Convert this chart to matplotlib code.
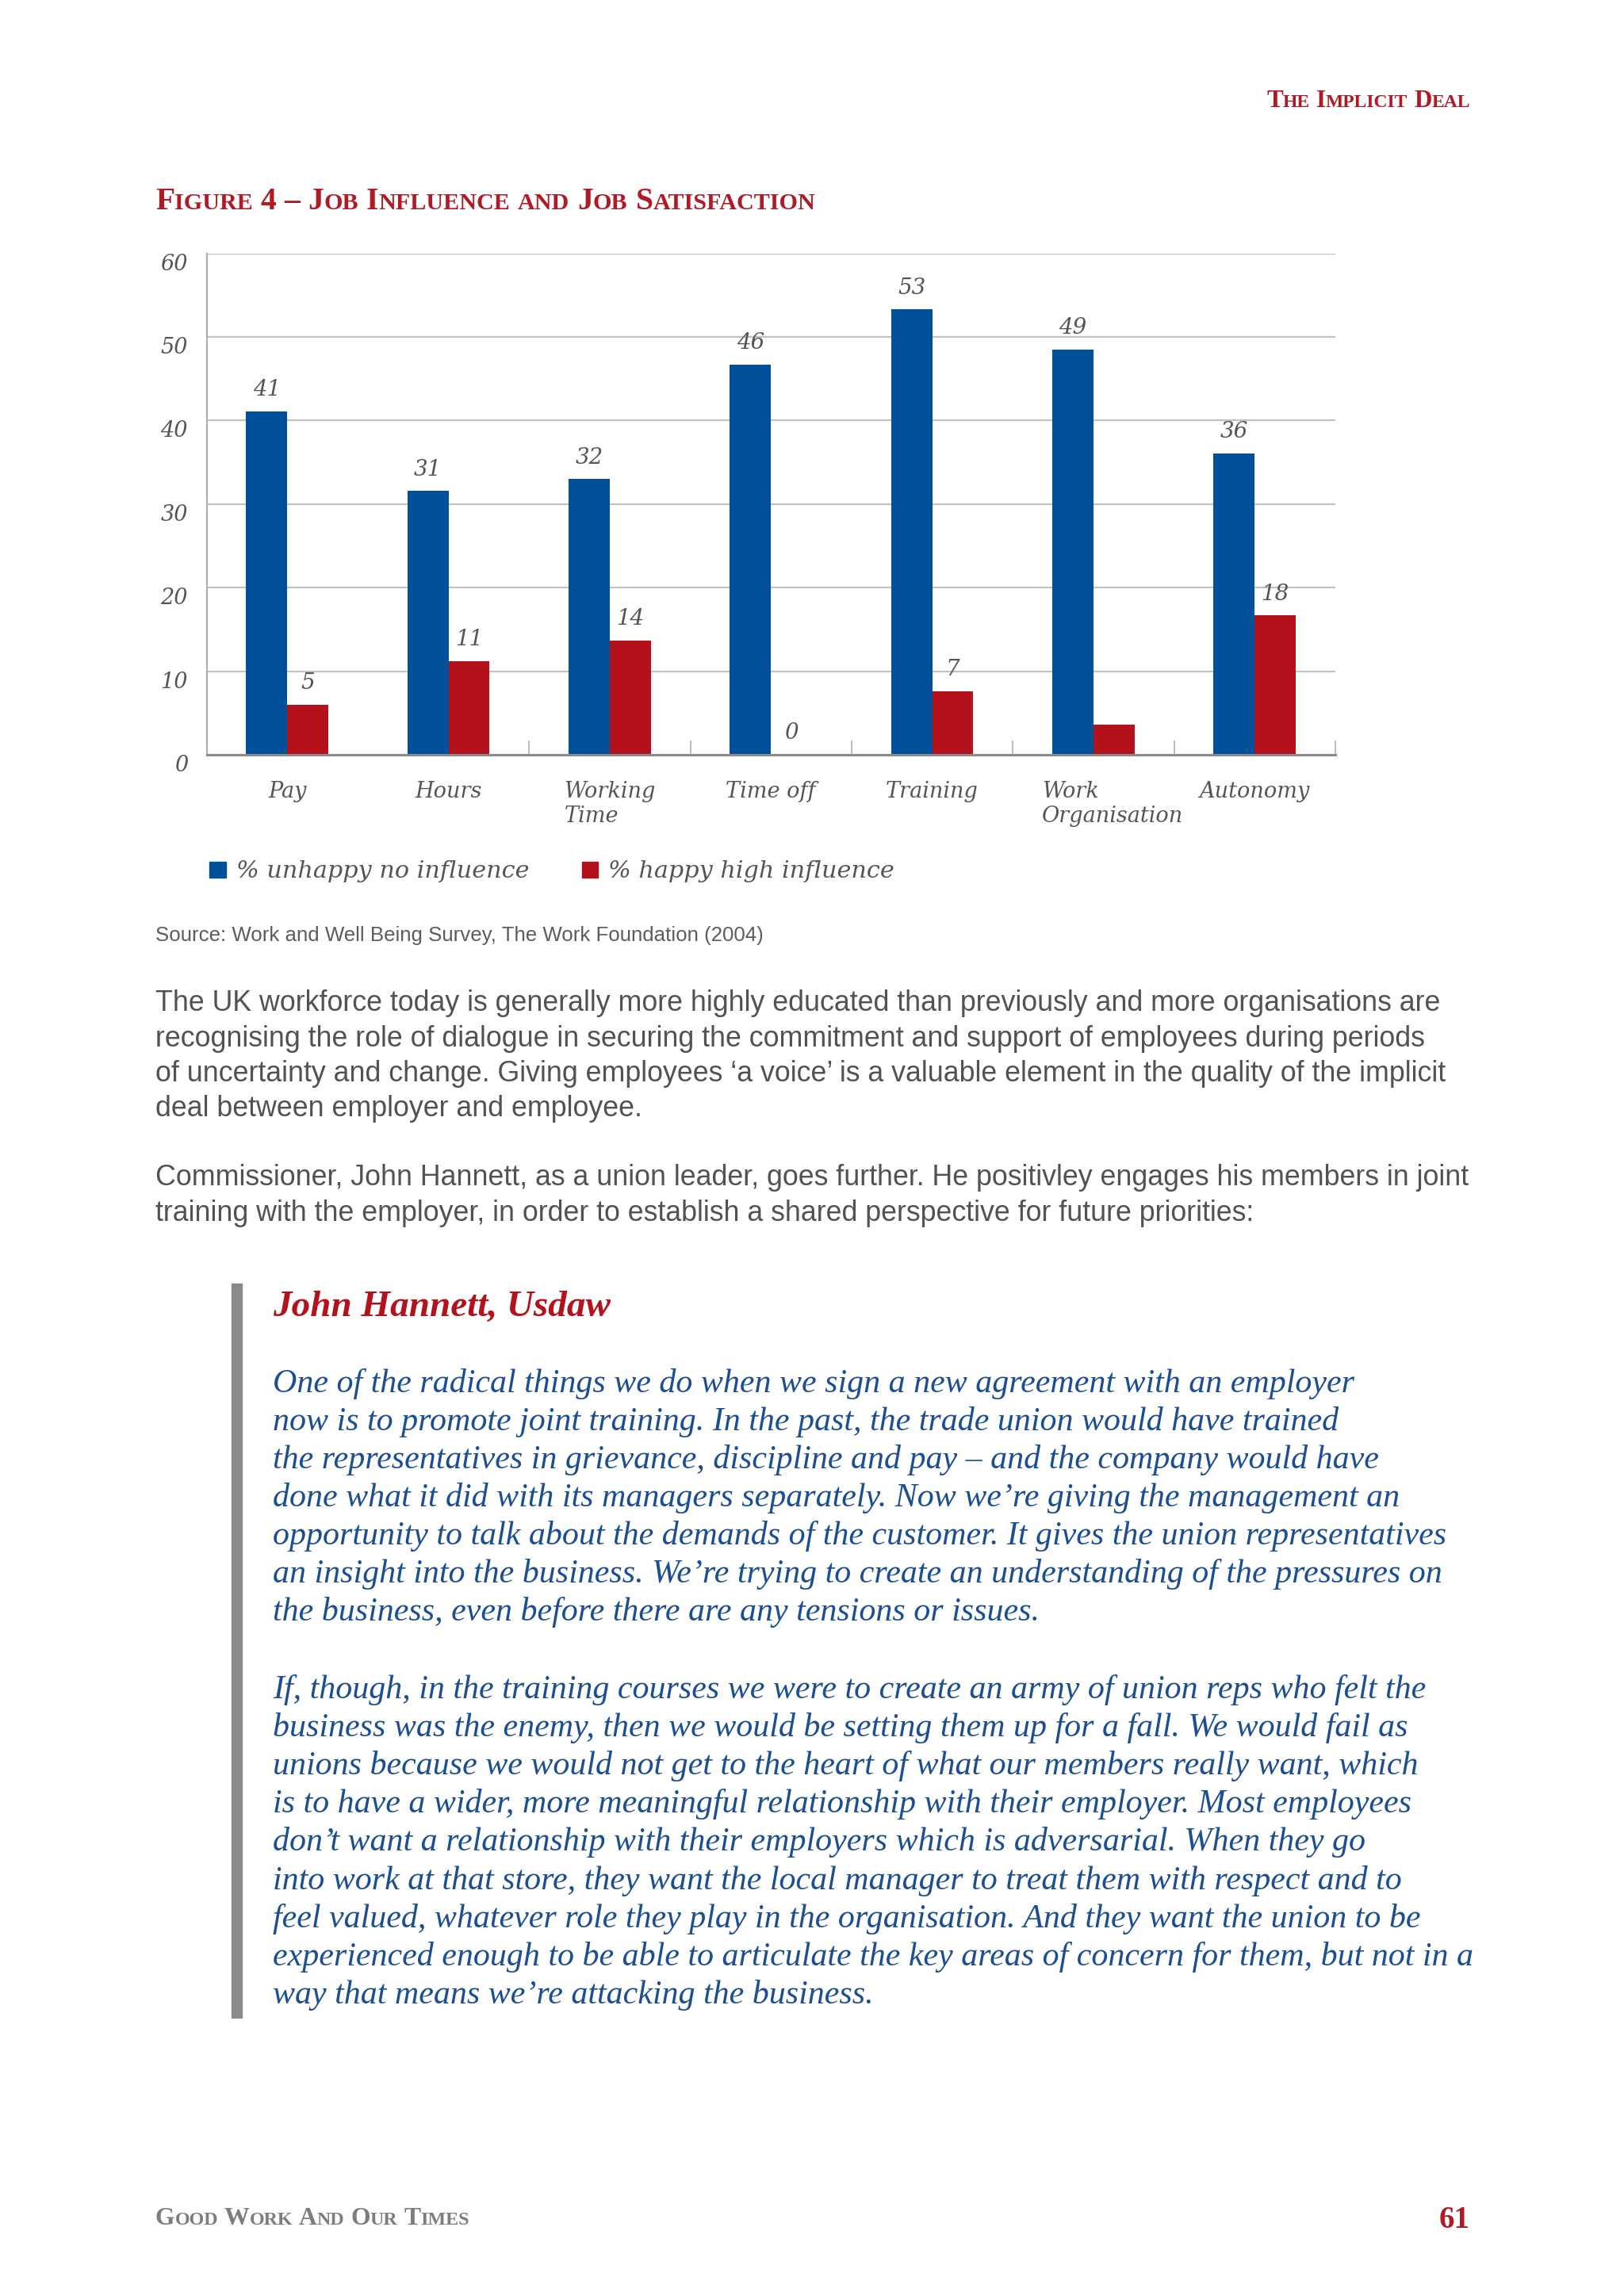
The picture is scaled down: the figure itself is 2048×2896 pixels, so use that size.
import matplotlib
matplotlib.use("Agg")
import matplotlib.pyplot as plt
from matplotlib.patches import Rectangle

W, H = 2048, 2896
DPI = 100
SX = W / 1108  # layout was measured on a 1108 px wide preview of the page

# --- data ---
categories = ["Pay", "Hours", "Working\nTime", "Time off", "Training",
              "Work\nOrganisation", "Autonomy"]
unhappy_no_influence = [41.1, 31.6, 33.0, 46.7, 53.3, 48.5, 36.1]
happy_high_influence = [6.0, 11.2, 13.7, 0.0, 7.6, 3.6, 16.7]
unhappy_labels = ["41", "31", "32", "46", "53", "49", "36"]
happy_labels = ["5", "11", "14", "0", "7", "", "18"]
y_ticks = [0, 10, 20, 30, 40, 50, 60]
series_names = ["% unhappy no influence", "% happy high influence"]

BLUE = "#00519a"
RED = "#b3121c"
TITLE_RED = "#b01a25"
LABEL_GREY = "#555555"
BODY_GREY = "#525252"
QUOTE_BLUE = "#1c4f91"

SERIF_IT = dict(family="DejaVu Serif", style="italic")
QUOTE_IT = dict(family="Liberation Serif", style="italic")

fig = plt.figure(figsize=(W / DPI, H / DPI), dpi=DPI)
fig.patch.set_facecolor("white")
renderer = fig.canvas.get_renderer()


def P(xd, yd):
    # preview coordinates -> figure fraction
    return xd * SX / W, 1 - yd * SX / H


def fit_size(text, target_px, **kw):
    t = fig.text(0, 0, text, fontsize=20, **kw)
    w = t.get_window_extent(renderer).width
    t.remove()
    return 20 * target_px / w


def small_caps(xd, yd, text, color, target_w, ha="left", weight="bold",
               family="Liberation Serif", ratio=0.76):
    # fake small caps: lowercase letters are drawn as smaller capitals
    def build(size):
        arts = []
        x = 0.0
        space = size * DPI / 72 * 0.25
        for word in text.split(" "):
            runs = []
            for ch in word:
                small = ch.islower()
                c = ch.upper() if small else ch
                if runs and runs[-1][0] == small:
                    runs[-1][1] += c
                else:
                    runs.append([small, c])
            for small, s in runs:
                t = fig.text(0, 0, s, fontsize=size * ratio if small else size,
                             color=color, weight=weight, family=family,
                             va="baseline", ha="left")
                arts.append((t, x))
                x += t.get_window_extent(renderer).width
            x += space
        return arts, x - space

    arts, total = build(20)
    for t, _ in arts:
        t.remove()
    size = 20 * target_w * SX / total
    arts, total = build(size)
    x0 = xd * SX - (total if ha == "right" else 0)
    y = P(0, yd)[1]
    for t, x in arts:
        t.set_position(((x0 + x) / W, y))


# --- page header and figure title ---
small_caps(1003, 73, "The Implicit Deal", TITLE_RED, 139, ha="right")
small_caps(106, 143, "Figure 4 – Job Influence and Job Satisfaction", TITLE_RED, 449)

# --- chart ---
x0, y0 = P(141, 515)
x1, y1 = P(911, 173)
ax = fig.add_axes([x0, y0, x1 - x0, y1 - y0])
ax.set_facecolor("white")

idx = list(range(len(categories)))
bw = 0.255
blue_bars = ax.bar([i - bw / 2 for i in idx], unhappy_no_influence, bw, color=BLUE, zorder=3)
red_bars = ax.bar([i + bw / 2 for i in idx], happy_high_influence, bw, color=RED, zorder=3)

ax.set_xlim(-0.5, len(categories) - 0.5)
ax.set_ylim(0, 60)
ax.set_yticks(y_ticks)
ax.set_yticklabels([str(v) for v in y_ticks], fontsize=19.5, color=LABEL_GREY, **SERIF_IT)
for lbl in ax.get_yticklabels():
    lbl.set_va("top")
ax.tick_params(axis="y", length=0, pad=17)
ax.set_xticks([i + 0.5 for i in idx[1:]])
ax.set_xticklabels([])
ax.tick_params(axis="x", direction="in", length=13, width=1.3, color="#b5b5b5")
ax.grid(axis="y", color="#c2c2c2", linewidth=1.6, zorder=0)
for side in ["top", "right"]:
    ax.spines[side].set_visible(False)
ax.spines["left"].set_color("#b0b0b0")
ax.spines["left"].set_linewidth(1.6)
ax.spines["bottom"].set_color("#8c8c8c")
ax.spines["bottom"].set_linewidth(2.2)
ax.spines["bottom"].set_zorder(4)

for bars, labels in [(blue_bars, unhappy_labels), (red_bars, happy_labels)]:
    for b, lab in zip(bars, labels):
        if not lab:
            continue
        ax.annotate(lab, (b.get_x() + b.get_width() / 2, b.get_height()),
                    xytext=(0, 14), textcoords="offset points", ha="center",
                    va="baseline", fontsize=20, color=LABEL_GREY, **SERIF_IT)

label_shift = {"Work\nOrganisation": 0.12}
for i, cat in zip(idx, categories):
    ax.text(i + label_shift.get(cat, 0), -0.052, cat, transform=ax.get_xaxis_transform(),
            ha="center", va="top", multialignment="left", fontsize=19.5,
            linespacing=1.2, color=LABEL_GREY, **SERIF_IT)

# legend
leg_size = fit_size(series_names[0], 200 * SX, **SERIF_IT)
for (lx, tx), name, col in zip([(143, 161), (397, 415)], series_names, [BLUE, RED]):
    rx, ry = P(lx, 599)
    fig.patches.append(Rectangle((rx, ry), 11 * SX / W, 11 * SX / H,
                                 transform=fig.transFigure, color=col))
    fig.text(*P(tx, 599), name, fontsize=leg_size, color=LABEL_GREY,
             va="baseline", ha="left", **SERIF_IT)

src = "Source: Work and Well Being Survey, The Work Foundation (2004)"
fig.text(*P(106, 642), src, fontsize=fit_size(src, 415 * SX, family="Liberation Sans"),
         family="Liberation Sans", color="#5c5c5c", va="baseline")

# --- body text ---
body_1 = [
    "The UK workforce today is generally more highly educated than previously and more organisations are",
    "recognising the role of dialogue in securing the commitment and support of employees during periods",
    "of uncertainty and change. Giving employees \u2018a voice\u2019 is a valuable element in the quality of the implicit",
    "deal between employer and employee.",
]
body_2 = [
    "Commissioner, John Hannett, as a union leader, goes further. He positivley engages his members in joint",
    "training with the employer, in order to establish a shared perspective for future priorities:",
]
body_size = fit_size(body_1[0], 876 * SX, family="Liberation Sans")
for start, lines in [(690, body_1), (809, body_2)]:
    for k, line in enumerate(lines):
        fig.text(*P(106, start + 24 * k), line, fontsize=body_size,
                 family="Liberation Sans", color=BODY_GREY, va="baseline")

# --- quote box ---
bx, by = P(158, 1377)
fig.patches.append(Rectangle((bx, by), 7 * SX / W, 501 * SX / H,
                             transform=fig.transFigure, color="#8a8a8c"))

head = "John Hannett, Usdaw"
fig.text(*P(186, 898), head, color=RED, va="baseline", weight="bold",
         fontsize=fit_size(head, 230 * SX, weight="bold", **QUOTE_IT),
         **QUOTE_IT)

quote_1 = [
    "One of the radical things we do when we sign a new agreement with an employer",
    "now is to promote joint training. In the past, the trade union would have trained",
    "the representatives in grievance, discipline and pay \u2013 and the company would have",
    "done what it did with its managers separately. Now we\u2019re giving the management an",
    "opportunity to talk about the demands of the customer. It gives the union representatives",
    "an insight into the business. We\u2019re trying to create an understanding of the pressures on",
    "the business, even before there are any tensions or issues.",
]
quote_2 = [
    "If, though, in the training courses we were to create an army of union reps who felt the",
    "business was the enemy, then we would be setting them up for a fall. We would fail as",
    "unions because we would not get to the heart of what our members really want, which",
    "is to have a wider, more meaningful relationship with their employer. Most employees",
    "don\u2019t want a relationship with their employers which is adversarial. When they go",
    "into work at that store, they want the local manager to treat them with respect and to",
    "feel valued, whatever role they play in the organisation. And they want the union to be",
    "experienced enough to be able to articulate the key areas of concern for them, but not in a",
    "way that means we\u2019re attacking the business.",
]
quote_size = fit_size(quote_1[0], 739 * SX, **QUOTE_IT)
for start, lines in [(950, quote_1), (1159, quote_2)]:
    for k, line in enumerate(lines):
        fig.text(*P(186, start + 26 * k), line, fontsize=quote_size,
                 color=QUOTE_BLUE, va="baseline", **QUOTE_IT)

# --- footer ---
small_caps(106, 1518, "Good Work And Our Times", "#7d7d7d", 214)
fig.text(*P(1003, 1520), "61", fontsize=28, weight="bold", family="Liberation Serif",
         color=TITLE_RED, ha="right", va="baseline")

fig.savefig("out.png", dpi=DPI, facecolor=fig.get_facecolor())
